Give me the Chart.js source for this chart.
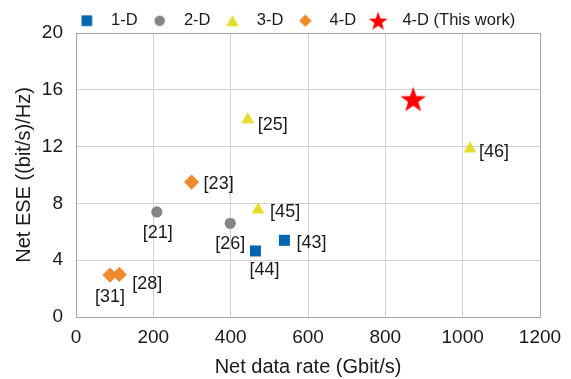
<!DOCTYPE html>
<html>
<head>
<meta charset="utf-8">
<script src="https://cdn.jsdelivr.net/npm/chart.js@4.4.1/dist/chart.umd.min.js"></script>
<style>
  html, body { margin: 0; padding: 0; background: #fff; }
  #wrap { width: 571px; height: 379px; }
</style>
</head>
<body>
<div id="wrap"><canvas id="chartESE"></canvas></div>
<script>
// Net data rate (Gbit/s) vs net ESE ((bit/s)/Hz), grouped by dimensionality
const oneDRate = [539, 464];
const oneDESE = [5.4, 4.65];
const oneDRefs = ['[43]', '[44]'];

const twoDRate = [209, 399];
const twoDESE = [7.4, 6.6];
const twoDRefs = ['[21]', '[26]'];

const threeDRate = [444, 1019, 471];
const threeDESE = [13.9, 11.85, 7.55];
const threeDRefs = ['[25]', '[46]', '[45]'];

const fourDRate = [299, 88, 112];
const fourDESE = [9.5, 2.95, 3.0];
const fourDRefs = ['[23]', '[31]', '[28]'];

const thisWorkRate = [872];
const thisWorkESE = [15.35];

const seriesNames = ['1-D', '2-D', '3-D', '4-D', '4-D (This work)'];
const xTicks = [0, 200, 400, 600, 800, 1000, 1200];
const yTicks = [0, 4, 8, 12, 16, 20];

const FONT = "'Liberation Sans', Arial, Helvetica, sans-serif";
const BLUE = '#0466b0';
const GRAY = '#858585';
const YELLOW = '#e6dd2e';
const ORANGE = '#f08a2e';
const RED = '#ff0000';

// where each reference tag sits relative to its marker
const tagPlacement = [
    [{dx: 12, dy: 3, align: 'left'}, {dx: 9, dy: 19, align: 'center'}],
    [{dx: 1, dy: 21, align: 'center'}, {dx: 0, dy: 21, align: 'center'}],
    [{dx: 10, dy: 5, align: 'left'}, {dx: 9, dy: 3, align: 'left'}, {dx: 12, dy: 2, align: 'left'}],
    [{dx: 12, dy: 2, align: 'left'}, {dx: 0, dy: 22, align: 'center'}, {dx: 13, dy: 10, align: 'left'}],
    []
];
const tagSets = [oneDRefs, twoDRefs, threeDRefs, fourDRefs, []];

function toPoints(xs, ys) {
    return xs.map((x, i) => ({x: x, y: ys[i]}));
}

function starPath(ctx, cx, cy, outer, inner) {
    ctx.beginPath();
    for (let i = 0; i < 10; i++) {
        const r = i % 2 === 0 ? outer : inner;
        const a = -Math.PI / 2 + i * Math.PI / 5;
        const px = cx + r * Math.cos(a);
        const py = cy + r * Math.sin(a);
        if (i === 0) ctx.moveTo(px, py); else ctx.lineTo(px, py);
    }
    ctx.closePath();
}

function makeMarker(kind, size, color) {
    const c = document.createElement('canvas');
    c.width = size;
    c.height = size;
    const g = c.getContext('2d');
    const m = size / 2;
    g.fillStyle = color;
    if (kind === 'square') {
        const s = size * 0.82;
        g.fillRect(m - s / 2, m - s / 2, s, s);
    } else if (kind === 'circle') {
        g.beginPath();
        g.arc(m, m, size * 0.44, 0, Math.PI * 2);
        g.fill();
    } else if (kind === 'triangle') {
        g.beginPath();
        g.moveTo(m, m - size * 0.42);
        g.lineTo(m + size * 0.48, m + size * 0.42);
        g.lineTo(m - size * 0.48, m + size * 0.42);
        g.closePath();
        g.fill();
    } else if (kind === 'diamond') {
        g.beginPath();
        g.moveTo(m, m - size * 0.48);
        g.lineTo(m + size * 0.48, m);
        g.lineTo(m, m + size * 0.48);
        g.lineTo(m - size * 0.48, m);
        g.closePath();
        g.fill();
    } else {
        starPath(g, m, m + size * 0.05, size * 0.5, size * 0.2);
        g.fill();
    }
    return c;
}

const bigStar = makeMarker('star', 27, RED);
const legendMarkers = [
    makeMarker('square', 13, BLUE),
    makeMarker('circle', 12, GRAY),
    makeMarker('triangle', 13, YELLOW),
    makeMarker('diamond', 13, ORANGE),
    makeMarker('star', 20, RED)
];

const refTags = {
    id: 'refTags',
    afterDatasetsDraw(chart) {
        const ctx = chart.ctx;
        ctx.save();
        ctx.font = '18px ' + FONT;
        ctx.fillStyle = '#1a1a1a';
        ctx.textBaseline = 'middle';
        chart.data.datasets.forEach((ds, i) => {
            const meta = chart.getDatasetMeta(i);
            meta.data.forEach((pt, j) => {
                const tag = tagSets[i][j];
                const pl = tagPlacement[i][j];
                if (!tag || !pl) return;
                ctx.textAlign = pl.align;
                ctx.fillText(tag, pt.x + pl.dx, pt.y + pl.dy);
            });
        });
        ctx.restore();
    }
};

// nudge the legend so it sits where the original one does
const legendNudge = {
    id: 'legendNudge',
    afterLayout(chart) {
        const lg = chart.legend;
        if (!lg) return;
        lg.left += 23; lg.right += 23;
        lg.top += 6; lg.bottom += 6;
    }
};

const ctx = document.getElementById('chartESE');
new Chart(ctx, {
    type: 'scatter',
    data: {
        datasets: [
            {
                label: seriesNames[0],
                data: toPoints(oneDRate, oneDESE),
                pointStyle: 'rect',
                pointRadius: 7.8,
                backgroundColor: BLUE,
                borderWidth: 0
            },
            {
                label: seriesNames[1],
                data: toPoints(twoDRate, twoDESE),
                pointStyle: 'circle',
                pointRadius: 5.6,
                backgroundColor: GRAY,
                borderWidth: 0
            },
            {
                label: seriesNames[2],
                data: toPoints(threeDRate, threeDESE),
                pointStyle: 'triangle',
                pointRadius: 7.4,
                backgroundColor: YELLOW,
                borderWidth: 0
            },
            {
                label: seriesNames[3],
                data: toPoints(fourDRate, fourDESE),
                pointStyle: 'rectRot',
                pointRadius: 7.6,
                backgroundColor: ORANGE,
                borderWidth: 0
            },
            {
                label: seriesNames[4],
                data: toPoints(thisWorkRate, thisWorkESE),
                pointStyle: bigStar,
                pointRadius: 13,
                backgroundColor: RED,
                borderWidth: 0
            }
        ]
    },
    options: {
        responsive: true,
        maintainAspectRatio: false,
        animation: false,
        events: [],
        layout: {
            padding: {top: 0.5, right: 31, bottom: 0, left: 0}
        },
        plugins: {
            tooltip: {enabled: false},
            legend: {
                display: true,
                position: 'top',
                labels: {
                    usePointStyle: true,
                    pointStyleWidth: 32,
                    padding: 6,
                    color: '#1a1a1a',
                    font: {family: FONT, size: 16.5},
                    generateLabels(chart) {
                        const items = Chart.defaults.plugins.legend.labels.generateLabels(chart);
                        items.forEach((it, i) => { it.pointStyle = legendMarkers[i]; });
                        return items;
                    }
                }
            }
        },
        scales: {
            x: {
                type: 'linear',
                min: 0,
                max: 1200,
                afterFit(scale) { scale.height = 62; },
                afterBuildTicks(scale) { scale.ticks = xTicks.map(v => ({value: v})); },
                ticks: {
                    padding: 9,
                    color: '#1a1a1a',
                    font: {family: FONT, size: 19},
                    callback: value => String(value)
                },
                grid: {
                    drawTicks: false,
                    color: c => (c.tick && c.tick.value === 1200) ? '#a6a6a6' : '#d2d2d2',
                    lineWidth: 1
                },
                border: {color: '#a6a6a6', width: 1},
                title: {
                    display: true,
                    text: 'Net data rate (Gbit/s)',
                    color: '#1a1a1a',
                    font: {family: FONT, size: 20},
                    padding: {top: 0, bottom: 0}
                }
            },
            y: {
                type: 'linear',
                min: 0,
                max: 20,
                afterFit(scale) { scale.width = 76; },
                afterBuildTicks(scale) { scale.ticks = yTicks.map(v => ({value: v})); },
                ticks: {
                    padding: 13,
                    color: '#1a1a1a',
                    font: {family: FONT, size: 19},
                    callback: value => String(value)
                },
                grid: {
                    drawTicks: false,
                    color: c => (c.tick && c.tick.value === 20) ? '#a6a6a6' : '#d2d2d2',
                    lineWidth: 1
                },
                border: {color: '#a6a6a6', width: 1},
                title: {
                    display: true,
                    text: 'Net ESE ((bit/s)/Hz)',
                    color: '#1a1a1a',
                    font: {family: FONT, size: 20},
                    padding: {top: 12, bottom: 0}
                }
            }
        }
    },
    plugins: [refTags, legendNudge]
});
</script>
</body>
</html>
